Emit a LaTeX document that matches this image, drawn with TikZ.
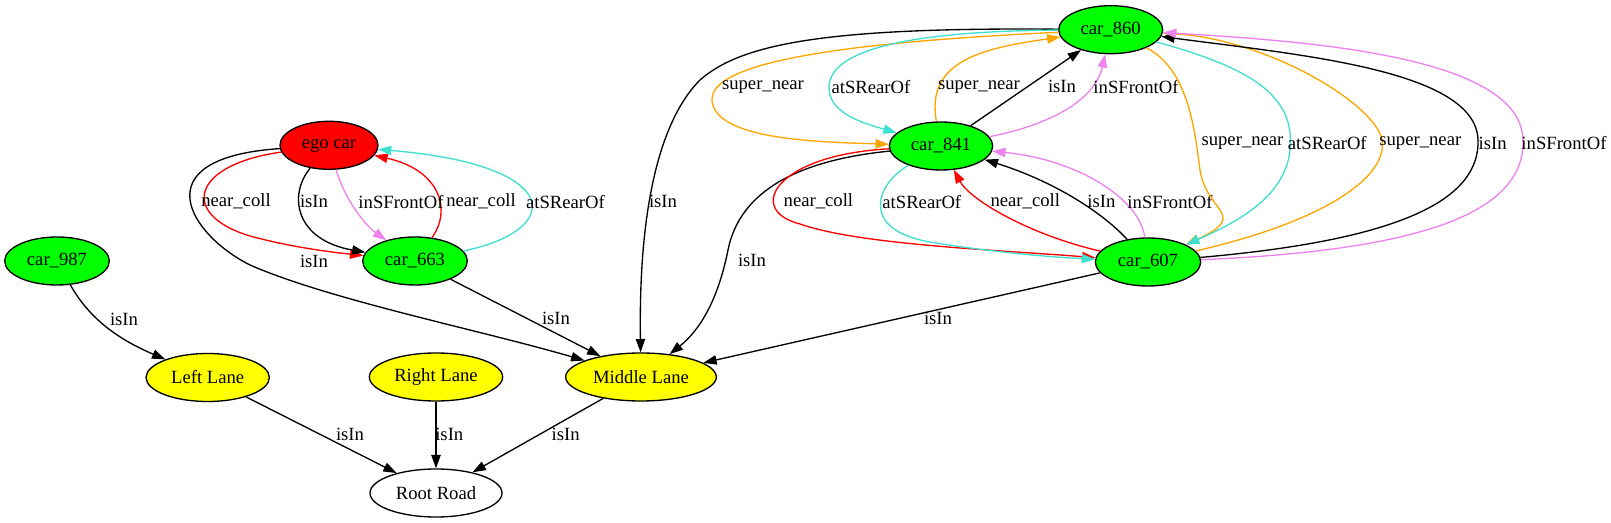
\documentclass[tikz,border=0pt]{standalone}
\usepackage{fontspec}
\setmainfont{Liberation Serif}
\usetikzlibrary{shapes.geometric,arrows.meta}
\definecolor{gvgreen}{HTML}{00FF00}
\definecolor{gvred}{HTML}{FF0000}
\definecolor{gvyellow}{HTML}{FFFF00}
\definecolor{gvorange}{HTML}{FFA500}
\definecolor{gvturq}{HTML}{40E0D0}
\definecolor{gvviolet}{HTML}{EE82EE}
\tikzset{
  gnode/.style={ellipse,draw=black,line width=1pt,inner sep=0pt,minimum height=36pt,
    font=\fontsize{14pt}{16pt}\selectfont},
  lbl/.style={inner sep=0pt,font=\fontsize{14pt}{16pt}\selectfont},
  gedge/.style={line width=1pt,-{Triangle[length=10pt,width=7pt]}},
}
\begin{document}
\begin{tikzpicture}[x=0.75pt,y=-0.75pt]
\useasboundingbox (0,0) rectangle (1611,523);
\fill[white] (0,0) rectangle (1611,523);
% nodes
\node[gnode,fill=gvgreen,minimum width=78pt] (n860) at (1110.7,29.7) {car\_860};
\node[gnode,fill=gvgreen,minimum width=77.5pt] (n841) at (941,146) {car\_841};
\node[gnode,fill=gvgreen,minimum width=79pt] (n607) at (1148,262) {car\_607};
\node[gnode,fill=gvred,minimum width=73.5pt] (ego) at (329,145.3) {ego car};
\node[gnode,fill=gvgreen,minimum width=78.5pt] (n663) at (415,261) {car\_663};
\node[gnode,fill=gvgreen,minimum width=78.5pt] (n987) at (57,261) {car\_987};
\node[gnode,fill=gvyellow,minimum width=92.5pt] (LL) at (207.7,377.5) {Left Lane};
\node[gnode,fill=gvyellow,minimum width=100pt] (RL) at (436,377) {Right Lane};
\node[gnode,fill=gvyellow,minimum width=113pt] (ML) at (641,377) {Middle Lane};
\node[gnode,fill=white,minimum width=99pt] (RR) at (436,493) {Root Road};

% ego car cluster
\draw[gedge] (ego) .. controls (140,158) and (190,235) .. (250,265) .. controls (330,300) and (480,330) .. (ML);
\draw[gedge,gvred] (ego) .. controls (190,165) and (180,215) .. (250,236) .. controls (290,247) and (330,252) .. (n663);
\draw[gedge] (ego) .. controls (288,195) and (295,240) .. (n663);
\draw[gedge,gvviolet] (ego) .. controls (345,200) and (365,225) .. (n663);
\draw[gedge,gvred] (n663) .. controls (452,210) and (440,170) .. (ego);
\draw[gedge,gvturq] (n663) .. controls (565,230) and (565,165) .. (ego);
\node[lbl] (l1) at (236,201.7) {near\_coll};
\node[lbl] (l2) at (314,201.7) {isIn};
\node[lbl] (l3) at (401,201.7) {inSFrontOf};
\node[lbl] (l4) at (481,201.7) {near\_coll};
\node[lbl] (l5) at (565.5,201.7) {atSRearOf};
\node[lbl] (l6) at (314,261) {isIn};

% to lanes
\draw[gedge] (n663) -- (ML);
\node[lbl] (l7) at (556,318.5) {isIn};
\draw[gedge] (n860) .. controls (820,27) and (740,45) .. (700,80) .. controls (670,110) and (638,180) .. (ML);
\node[lbl] (l8) at (663,201.7) {isIn};
\draw[gedge] (n841) .. controls (800,160) and (740,190) .. (728,250) .. controls (718,300) and (700,330) .. (ML);
\node[lbl] (l9) at (752,260) {isIn};
\draw[gedge] (n607) -- (ML);
\node[lbl] (l10) at (938,318.5) {isIn};
\draw[gedge] (n987) .. controls (90,320) and (120,340) .. (LL);
\node[lbl] (l11) at (124,319) {isIn};
\draw[gedge] (LL) -- (RR);
\node[lbl] (l12) at (350,434) {isIn};
\draw[gedge] (RL) -- (RR);
\node[lbl] (l13) at (449.3,434) {isIn};
\draw[gedge] (ML) -- (RR);
\node[lbl] (l14) at (565.7,434) {isIn};

% car_860 <-> car_841
\draw[gedge,gvorange] (n860) .. controls (900,40) and (710,55) .. (712,100) .. controls (714,140) and (820,142) .. (n841);
\draw[gedge,gvturq] (n860) .. controls (930,31) and (830,45) .. (829,87) .. controls (828,115) and (870,125) .. (n841);
\draw[gedge,gvorange] (n841) .. controls (925,60) and (985,48) .. (n860);
\draw[gedge] (n841) -- (n860);
\draw[gedge,gvviolet] (n841) .. controls (1050,125) and (1095,100) .. (n860);
\node[lbl] (l15) at (763,86.7) {super\_near};
\node[lbl] (l16) at (871,86.7) {atSRearOf};
\node[lbl] (l17) at (979,86.7) {super\_near};
\node[lbl] (l18) at (1062,86.7) {isIn};
\node[lbl] (l19) at (1136,86.7) {inSFrontOf};

% car_841 <-> car_607
\draw[gedge,gvred] (n841) .. controls (775,155) and (745,210) .. (800,224) .. controls (860,245) and (1000,250) .. (n607);
\draw[gedge,gvturq] (n841) .. controls (875,185) and (860,230) .. (930,242) .. controls (990,252) and (1050,257) .. (n607);
\draw[gedge,gvred] (n607) .. controls (1030,235) and (970,200) .. (n841);
\draw[gedge] (n607) .. controls (1100,210) and (1050,180) .. (n841);
\draw[gedge,gvviolet] (n607) .. controls (1140,200) and (1080,160) .. (n841);
\node[lbl] (l20) at (818.4,201.7) {near\_coll};
\node[lbl] (l21) at (921.8,201.7) {atSRearOf};
\node[lbl] (l22) at (1025.3,201.7) {near\_coll};
\node[lbl] (l23) at (1101.4,201.7) {isIn};
\node[lbl] (l24) at (1170,201.7) {inSFrontOf};

% car_860 <-> car_607
\draw[gedge,gvorange] (n860) .. controls (1190,70) and (1195,135) .. (1200,170) .. controls (1206,212) and (1250,215) .. (n607);
\draw[gedge,gvturq] (n860) .. controls (1260,70) and (1295,100) .. (1290,150) .. controls (1285,200) and (1230,225) .. (n607);
\draw[gedge,gvorange] (n607) .. controls (1330,220) and (1388,175) .. (1382,140) .. controls (1376,105) and (1270,40) .. (n860);
\draw[gedge] (n607) .. controls (1400,240) and (1480,200) .. (1478,140) .. controls (1476,70) and (1300,55) .. (n860);
\draw[gedge,gvviolet] (n607) .. controls (1430,250) and (1525,210) .. (1523,140) .. controls (1521,60) and (1330,42) .. (n860);
\node[lbl] (l25) at (1242.5,143) {super\_near};
\node[lbl] (l26) at (1327.3,143) {atSRearOf};
\node[lbl] (l27) at (1420.3,143) {super\_near};
\node[lbl] (l28) at (1492.6,143) {isIn};
\node[lbl] (l29) at (1564,143) {inSFrontOf};
\end{tikzpicture}
\end{document}
